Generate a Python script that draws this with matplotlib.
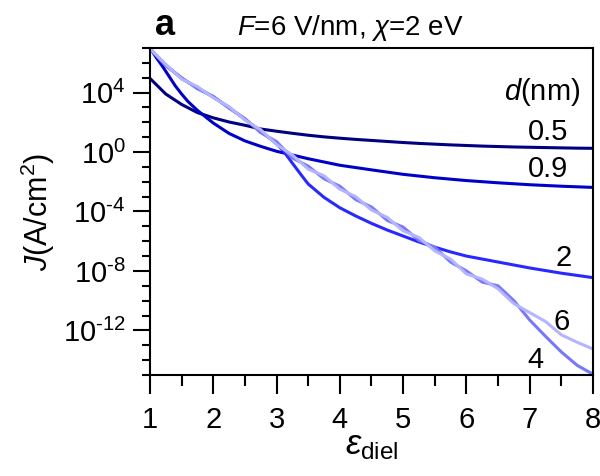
import numpy as np
import matplotlib
matplotlib.use("Agg")
import matplotlib.pyplot as plt
from matplotlib.ticker import FixedLocator, FuncFormatter, NullFormatter

# Arial-like look for both plain text and math text
plt.rcParams['font.family'] = ['Liberation Sans', 'DejaVu Sans']
plt.rcParams['mathtext.fontset'] = 'custom'
plt.rcParams['mathtext.rm'] = 'Liberation Sans'
plt.rcParams['mathtext.it'] = 'Liberation Sans:italic'
plt.rcParams['mathtext.bf'] = 'Liberation Sans:bold'

# eps_diel grid for the thick-film curves
eps = [1.0, 1.25, 1.5, 1.75, 2.0, 2.25, 2.5, 2.75, 3.0, 3.25, 3.5, 3.75, 4.0,
       4.25, 4.5, 4.75, 5.0, 5.25, 5.5, 5.75, 6.0, 6.25, 6.5, 6.75, 7.0,
       7.25, 7.5, 7.75, 8.0]

# log10 J (A/cm^2), one list per thickness d (nm)
logj_05 = [4.95, 3.9, 3.2, 2.65, 2.3, 2.02, 1.8, 1.55, 1.4, 1.26, 1.13, 1.02,
           0.93, 0.85, 0.78, 0.71, 0.64, 0.58, 0.53, 0.48, 0.44, 0.4, 0.37,
           0.34, 0.32, 0.3, 0.28, 0.26, 0.25]

eps_09 = [1.0, 1.1, 1.2, 1.3, 1.4, 1.5, 1.6, 1.75, 2.0, 2.25, 2.5, 2.75, 3.0,
          3.5, 4.0, 4.5, 5.0, 5.5, 6.0, 6.5, 7.0, 7.5, 8.0]
logj_09 = [7.0, 6.35, 5.75, 5.1, 4.45, 3.9, 3.4, 2.8, 1.95, 1.25, 0.75, 0.38,
           0.05, -0.45, -0.89, -1.2, -1.5, -1.73, -1.92, -2.07, -2.2, -2.3,
           -2.38]

eps_2 = [1.0, 1.25, 1.5, 1.75, 2.0, 2.25, 2.5, 2.75, 2.9, 3.0, 3.1, 3.25, 3.4,
         3.5, 3.75, 4.0, 4.25, 4.5, 4.75, 5.0, 5.25, 5.5, 5.75, 6.0, 6.5,
         7.0, 7.5, 8.0]
logj_2 = [6.95, 5.85, 4.95, 4.33, 3.7, 3.0, 2.2, 1.4, 0.9, 0.55, 0.12, -0.75,
          -1.6, -2.15, -3.05, -3.75, -4.3, -4.8, -5.25, -5.65, -6.05, -6.4,
          -6.72, -7.0, -7.4, -7.8, -8.15, -8.45]

logj_4 = [6.95, 5.8, 5.0, 4.25, 3.75, 2.95, 2.25, 1.3, 0.7, -0.4, -0.95, -1.8,
          -2.3, -3.2, -3.7, -4.6, -5.05, -5.95, -6.4, -7.4, -8.0, -8.75, -9.0,
          -10.0, -11.3, -12.4, -13.45, -14.35, -14.95]
logj_6 = [6.95, 5.9, 4.9, 4.4, 3.65, 3.05, 2.15, 1.5, 0.5, -0.2, -1.15, -1.6,
          -2.5, -3.0, -3.9, -4.4, -5.3, -5.75, -6.65, -7.2, -8.2, -8.55, -9.2,
          -10.2, -10.8, -11.4, -12.3, -12.8, -13.25]

series = [
    ("0.5", eps, logj_05, "#000080"),
    ("0.9", eps_09, logj_09, "#0000c8"),
    ("2", eps_2, logj_2, "#2828ff"),
    ("4", eps, logj_4, "#7878f8"),
    ("6", eps, logj_6, "#b4b4ff"),
]

fig = plt.figure(figsize=(6, 4.76), dpi=100)
ax = fig.add_axes([0.25, 0.2122, 0.7383, 0.687])

for name, x, logj, color in series:
    ax.plot(x, 10.0 ** np.array(logj), color=color, lw=2.2,
            solid_capstyle='round', solid_joinstyle='round')

ax.set_yscale('log')
ax.set_xlim(1, 8)
ax.set_ylim(1e-15, 1e7)

ax.xaxis.set_major_locator(FixedLocator(list(range(1, 9))))
ax.xaxis.set_minor_locator(FixedLocator([1.5, 2.5, 3.5, 4.5, 5.5, 6.5, 7.5]))
ax.yaxis.set_major_locator(FixedLocator([1e-12, 1e-8, 1e-4, 1.0, 1e4]))
ax.yaxis.set_minor_locator(FixedLocator([10.0 ** k for k in range(-15, 8)]))
# plain hyphen in the exponent, like the original figure
ax.yaxis.set_major_formatter(
    FuncFormatter(lambda v, p: r'$10^{\text{%d}}$' % int(round(np.log10(v)))))
ax.yaxis.set_minor_formatter(NullFormatter())

ax.tick_params(axis='both', which='both', direction='out', width=1.5,
               labelsize=21, top=False, right=False)
ax.tick_params(axis='y', which='major', length=12.5, pad=5)
ax.tick_params(axis='y', which='minor', length=6)
ax.tick_params(axis='x', which='major', length=14, pad=8)
ax.tick_params(axis='x', which='minor', length=8)
for sp in ax.spines.values():
    sp.set_linewidth(1.5)

ax.set_ylabel(r'$\mathit{J}$(A/cm$^{2}$)', fontsize=22, labelpad=4)
ax.set_xlabel(r'$\varepsilon_{\mathrm{diel}}$', fontsize=25, labelpad=-3)

# panel letter and title
fig.text(155 / 600, 1 - 35 / 476, 'a', fontsize=26, fontweight='bold',
         ha='left', va='baseline')
fig.text(237 / 600, 1 - 35 / 476, r'$\mathit{F}$=6 V/nm, $\mathit{\chi}$=2 eV',
         fontsize=20, ha='left', va='baseline')

# curve labels on the right
fig.text(580 / 600, 1 - 92 / 476, r'$\mathit{d}$(nm)', fontsize=21,
         ha='right', va='center')
label_pos = {"0.5": (568, 132), "0.9": (568, 169), "2": (572, 258),
             "6": (570, 322), "4": (543, 360)}
for name, (px, py) in label_pos.items():
    fig.text(px / 600, 1 - py / 476, name, fontsize=21, ha='right',
             va='center')

fig.savefig('out.png', dpi=100)
